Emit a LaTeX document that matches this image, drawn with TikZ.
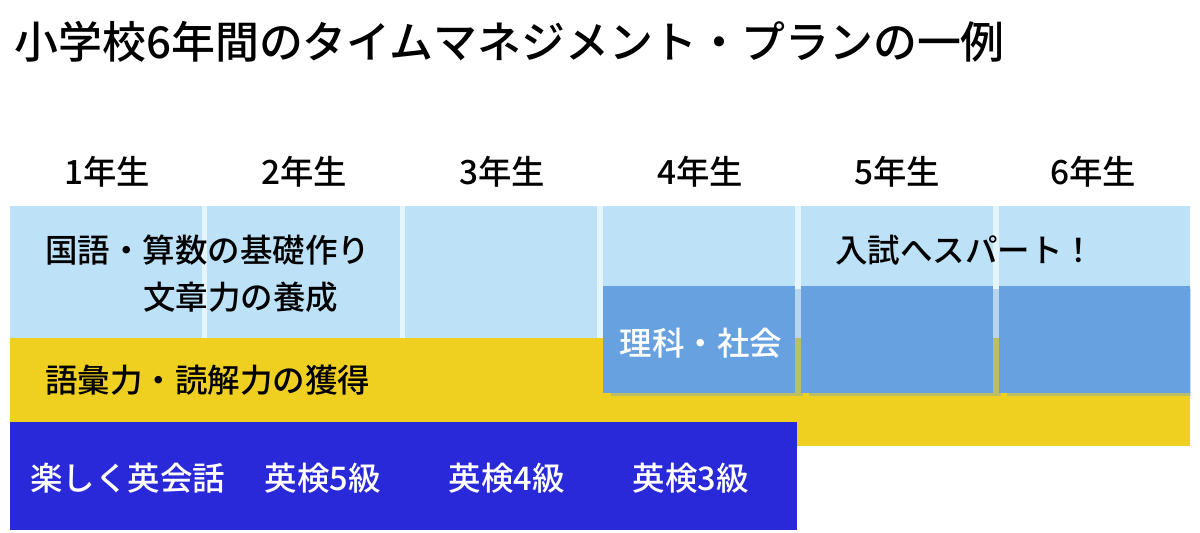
\documentclass[tikz,border=0pt]{standalone}
\usepackage{fontspec}
\setmainfont{Noto Sans CJK JP Medium}
\usepackage{tikz}
\usepackage{xcolor}
\definecolor{cSky}{RGB}{189,225,247}
\definecolor{cSep}{RGB}{230,244,252}
\definecolor{cMid}{RGB}{103,161,223}
\definecolor{cYellow}{RGB}{239,208,32}
\definecolor{cNavy}{RGB}{41,41,217}
\tikzset{
	titletxt/.style={anchor=west, inner sep=0pt, font=\fontsize{25}{28}\selectfont},
	yeartxt/.style ={inner sep=0pt, font=\fontsize{19}{22}\selectfont},
	boxtxt/.style  ={anchor=west, inner sep=0pt},
	whitetxt/.style={inner sep=0pt, text=white},
	shade/.style   ={fill=cMid, fill opacity=0.37},
}

\begin{document}
\begin{tikzpicture}[x=0.02cm, y=-0.02cm, font=\fontsize{18.5}{22}\selectfont]
	\useasboundingbox (0,0) rectangle (1200,533);
	% light blue columns with thin gaps
	\fill[cSky] (10,206) rectangle (1190,338);
	\foreach \s in {204.5,402.5,600,798,996}
		\fill[cSep] (\s-2.8,206) rectangle (\s+2.8,338);
	% bands
	\fill[cYellow] (10,338) rectangle (1190,446);
	\fill[cNavy] (10,422) rectangle (797,530);
	% science / social boxes with shadow
	\fill[shade] (611,289) rectangle (803,396);
	\fill[cMid] (603,286) rectangle (795,393);
	\fill[shade] (809,289) rectangle (1001,396);
	\fill[cMid] (801,286) rectangle (993,393);
	\fill[shade] (1007,289) rectangle (1191,396);
	\fill[cMid] (999,286) rectangle (1190,393);
	% texts
	\node[titletxt] (title) at (14,42) {小学校6年間のタイムマネジメント・プランの一例};
	\foreach \n/\x in {1/107,2/304,3/502,4/700,5/897,6/1093}
		\node[yeartxt] (y\n) at (\x,172) {\n 年生};
	\node[boxtxt] (base) at (45,250) {国語・算数の基礎作り};
	\node[boxtxt] (essay) at (143,297) {文章力の養成};
	\node[boxtxt] (spurt) at (835,250) {入試へスパート！};
	\node[whitetxt] (sci) at (701,343) {理科・社会};
	\node[boxtxt] (vocab) at (45,380) {語彙力・読解力の獲得};
	\node[whitetxt, anchor=west] (eng) at (30,478) {楽しく英会話};
	\node[whitetxt] (ek5) at (323,478) {英検5級};
	\node[whitetxt] (ek4) at (507,478) {英検4級};
	\node[whitetxt] (ek3) at (691,478) {英検3級};
\end{tikzpicture}
\end{document}
